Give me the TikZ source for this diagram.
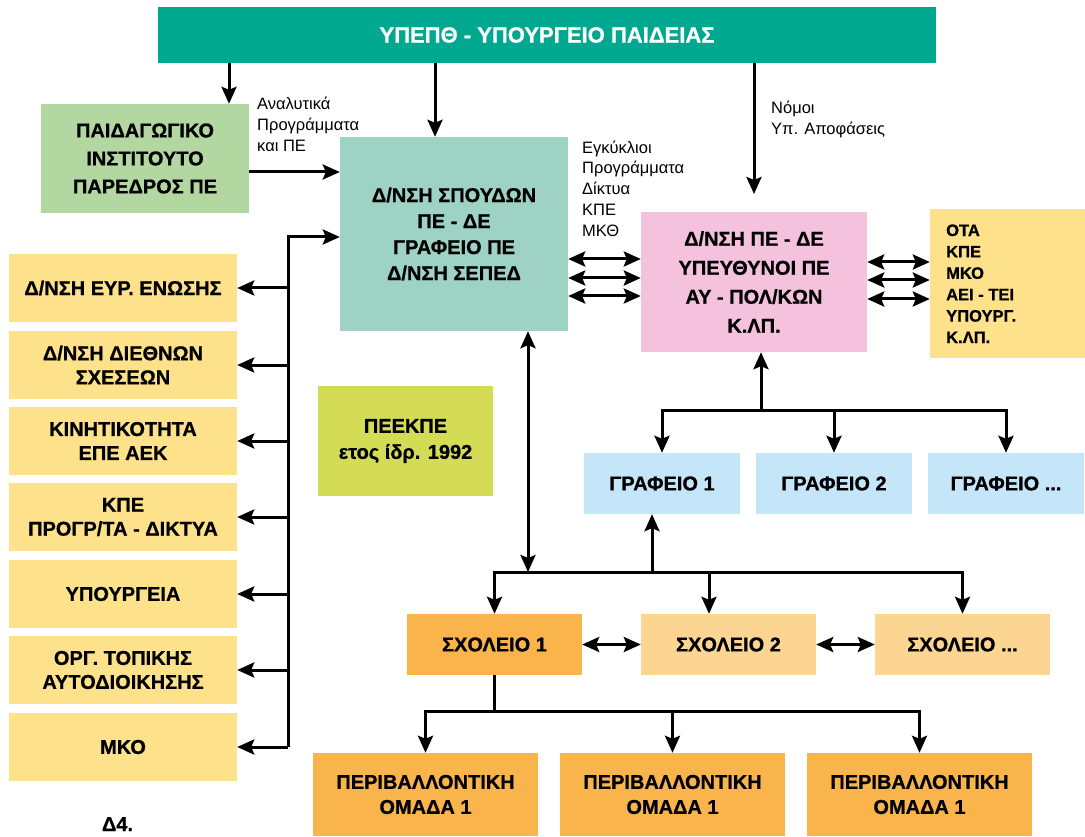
\documentclass[tikz,border=0pt]{standalone}
\usepackage{fontspec}
\setmainfont{Liberation Sans}[BoldFeatures={FakeBold=0.8}]
\usetikzlibrary{arrows.meta}
\definecolor{cTop}{RGB}{0,168,143}
\definecolor{cPI}{RGB}{179,215,160}
\definecolor{cDNS}{RGB}{158,210,196}
\definecolor{cPE}{RGB}{245,194,222}
\definecolor{cYel}{RGB}{254,225,139}
\definecolor{cPEEK}{RGB}{212,220,85}
\definecolor{cGraf}{RGB}{197,230,248}
\definecolor{cSch}{RGB}{249,180,76}
\definecolor{cSchL}{RGB}{252,213,146}
\begin{document}
\begin{tikzpicture}[x=1pt,y=-1pt,
 box/.style={rectangle, inner sep=0pt, align=center, font=\bfseries\fontsize{20}{26}\selectfont},
 arr/.style={line width=3pt, -{Stealth[length=17pt,width=15pt,inset=3pt]}},
 dbl/.style={line width=3pt, {Stealth[length=17pt,width=15pt,inset=3pt]}-{Stealth[length=17pt,width=15pt,inset=3pt]}},
 ln/.style={line width=3pt},
 lbl/.style={inner sep=0pt, align=left, anchor=base west, font=\fontsize{16.5}{21}\selectfont},
 lbox/.style={box, fill=cYel, minimum width=228pt, minimum height=68pt, font=\bfseries\fontsize{20}{24}\selectfont}]
\useasboundingbox (0,0) rectangle (1085,837);
% nodes
\node[box, fill=cTop, text=white, minimum width=778pt, minimum height=56pt, font=\bfseries\fontsize{22}{26}\selectfont] (top) at (547,35) {ΥΠΕΠΘ - ΥΠΟΥΡΓΕΙΟ ΠΑΙΔΕΙΑΣ};
\node[box, fill=cPI, minimum width=208pt, minimum height=109pt, font=\bfseries\fontsize{20}{28}\selectfont] (pi) at (145,158.5) {ΠΑΙΔΑΓΩΓΙΚΟ\\ΙΝΣΤΙΤΟΥΤΟ\\ΠΑΡΕΔΡΟΣ ΠΕ};
\node[box, fill=cDNS, minimum width=228pt, minimum height=194pt] (dns) at (454,234) {Δ/ΝΣΗ ΣΠΟΥΔΩΝ\\ΠΕ - ΔΕ\\ΓΡΑΦΕΙΟ ΠΕ\\Δ/ΝΣΗ ΣΕΠΕΔ};
\node[box, fill=cPE, minimum width=226pt, minimum height=140pt, font=\bfseries\fontsize{20}{29}\selectfont] (pe) at (754,282) {Δ/ΝΣΗ ΠΕ - ΔΕ\\ΥΠΕΥΘΥΝΟΙ ΠΕ\\ΑΥ - ΠΟΛ/ΚΩΝ\\Κ.ΛΠ.};
\node[box, fill=cYel, minimum width=155pt, minimum height=149pt] (ext) at (1007.5,283.5) {};
\node[inner sep=0pt, align=left, anchor=base west, font=\bfseries\fontsize{16.5}{21.4}\selectfont] (exttxt) at (946,343) {ΟΤΑ\\ΚΠΕ\\ΜΚΟ\\ΑΕΙ - ΤΕΙ\\ΥΠΟΥΡΓ.\\Κ.ΛΠ.};
\node[lbox] (l1) at (123,288) {Δ/ΝΣΗ ΕΥΡ. ΕΝΩΣΗΣ};
\node[lbox] (l2) at (123,365) {Δ/ΝΣΗ ΔΙΕΘΝΩΝ\\ΣΧΕΣΕΩΝ};
\node[lbox] (l3) at (123,441) {ΚΙΝΗΤΙΚΟΤΗΤΑ\\ΕΠΕ ΑΕΚ};
\node[lbox] (l4) at (123,517) {ΚΠΕ\\ΠΡΟΓΡ/ΤΑ - ΔΙΚΤΥΑ};
\node[lbox] (l5) at (123,594) {ΥΠΟΥΡΓΕΙΑ};
\node[lbox] (l6) at (123,670) {ΟΡΓ. ΤΟΠΙΚΗΣ\\ΑΥΤΟΔΙΟΙΚΗΣΗΣ};
\node[lbox] (l7) at (123,747) {ΜΚΟ};
\node[box, fill=cPEEK, minimum width=175pt, minimum height=110pt] (peek) at (405.5,441) {ΠΕΕΚΠΕ\\ετος ίδρ. 1992};
\node[box, fill=cGraf, minimum width=156pt, minimum height=61pt] (g1) at (662,483.5) {ΓΡΑΦΕΙΟ 1};
\node[box, fill=cGraf, minimum width=156pt, minimum height=61pt] (g2) at (834,483.5) {ΓΡΑΦΕΙΟ 2};
\node[box, fill=cGraf, minimum width=156pt, minimum height=61pt] (g3) at (1006,483.5) {ΓΡΑΦΕΙΟ ...};
\node[box, fill=cSch, minimum width=175pt, minimum height=61pt] (s1) at (494.5,644.5) {ΣΧΟΛΕΙΟ 1};
\node[box, fill=cSchL, minimum width=175pt, minimum height=61pt] (s2) at (728.5,644.5) {ΣΧΟΛΕΙΟ 2};
\node[box, fill=cSchL, minimum width=175pt, minimum height=61pt] (s3) at (962.5,644.5) {ΣΧΟΛΕΙΟ ...};
\node[box, fill=cSch, minimum width=225pt, minimum height=83pt, font=\bfseries\fontsize{20}{25}\selectfont] (p1) at (425.5,794.5) {ΠΕΡΙΒΑΛΛΟΝΤΙΚΗ\\ΟΜΑΔΑ 1};
\node[box, fill=cSch, minimum width=225pt, minimum height=83pt, font=\bfseries\fontsize{20}{25}\selectfont] (p2) at (672.5,794.5) {ΠΕΡΙΒΑΛΛΟΝΤΙΚΗ\\ΟΜΑΔΑ 1};
\node[box, fill=cSch, minimum width=225pt, minimum height=83pt, font=\bfseries\fontsize{20}{25}\selectfont] (p3) at (919.5,794.5) {ΠΕΡΙΒΑΛΛΟΝΤΙΚΗ\\ΟΜΑΔΑ 1};
% labels (base = baseline of last line)
\node[lbl] (la) at (257,152) {Αναλυτικά\\Προγράμματα\\και ΠΕ};
\node[lbl] (lb) at (771,135) {Νόμοι\\Υπ. Αποφάσεις};
\node[lbl] (lc) at (582,237) {Εγκύκλιοι\\Προγράμματα\\Δίκτυα\\ΚΠΕ\\ΜΚΘ};
\node[inner sep=0pt, anchor=base, font=\bfseries\fontsize{20}{24}\selectfont] (d4) at (117.5,831) {Δ4.};
% helper coordinates
\coordinate (xa) at (229,0);
\coordinate (xb) at (435,0);
\coordinate (nm) at (754,194);
\coordinate (yp) at (0,172);
\coordinate (bt) at (288,237);
\coordinate (bb) at (288,747);
\coordinate (ya) at (0,259);
\coordinate (yb) at (0,278);
\coordinate (yc) at (0,296);
\coordinate (yd) at (0,262);
\coordinate (ye) at (0,280);
\coordinate (yf) at (0,299);
\coordinate (gb) at (761,410);
\coordinate (sb) at (528,572);
\coordinate (s2x) at (709,572);
\coordinate (g1x) at (652,572);
\coordinate (pb) at (494.5,711);
% connectors
\draw[arr] (top.south -| xa) -- (pi.north -| xa);
\draw[arr] (top.south -| xb) -- (dns.north -| xb);
\draw[arr] (top.south -| nm) -- (nm);
\draw[arr] (pi.east |- yp) -- (dns.west |- yp);
\draw[arr] (bb) -- (bt) -- (dns.west |- bt);
\foreach \n in {l1,l2,l3,l4,l5,l6,l7} \draw[arr] (\n.east -| bt) -- (\n.east);
\foreach \c in {ya,yb,yc} \draw[dbl] (dns.east |- \c) -- (pe.west |- \c);
\foreach \c in {yd,ye,yf} \draw[dbl] (pe.east |- \c) -- (ext.west |- \c);
\draw[arr] (gb) -- (pe.south -| gb);
\draw[arr] (gb) -| (g1.north);
\draw[arr] (gb) -| (g3.north);
\draw[arr] (g2.north |- gb) -- (g2.north);
\draw[dbl] (dns.south -| sb) -- (sb);
\draw[arr] (sb) -| (s1.north);
\draw[arr] (sb) -| (s3.north);
\draw[arr] (s2x) -- (s2.north -| s2x);
\draw[arr] (g1x) -- (g1.south -| g1x);
\draw[dbl] (s1.east) -- (s2.west);
\draw[dbl] (s2.east) -- (s3.west);
\draw[ln] (s1.south) -- (pb);
\draw[arr] (pb) -| (p1.north);
\draw[arr] (pb) -| (p3.north);
\draw[arr] (p2.north |- pb) -- (p2.north);
\end{tikzpicture}
\end{document}
